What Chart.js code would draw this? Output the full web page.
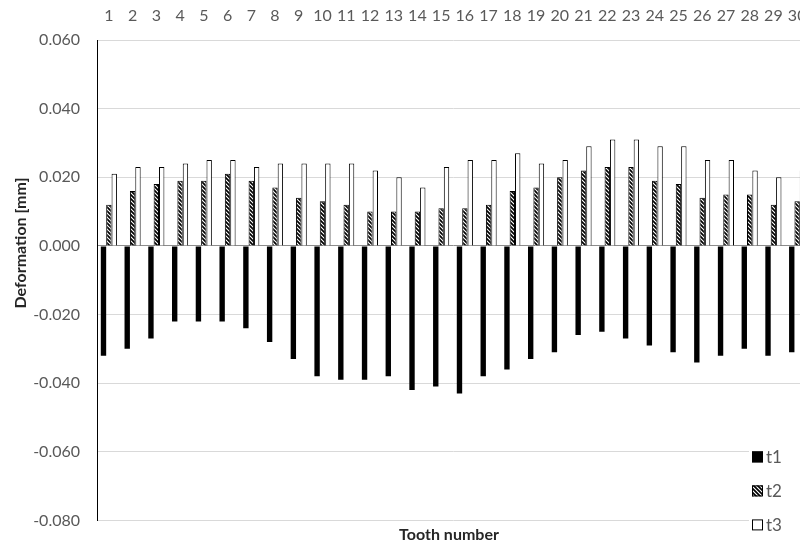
<!DOCTYPE html>
<html>
<head>
<meta charset="utf-8">
<script src="https://cdn.jsdelivr.net/npm/chart.js@4.4.0/dist/chart.umd.min.js"></script>
<style>
  html, body { margin: 0; padding: 0; background: #fff; overflow: hidden; }
  #wrap { width: 800px; height: 547px; overflow: hidden; }
</style>
</head>
<body>
<div id="wrap"><canvas id="chart" width="820" height="547"></canvas></div>
<script>
// tooth numbers (top axis)
const teeth = ["1", "2", "3", "4", "5", "6", "7", "8", "9", "10",
  "11", "12", "13", "14", "15", "16", "17", "18", "19", "20",
  "21", "22", "23", "24", "25", "26", "27", "28", "29", "30"];

// deformation [mm]
const t1 = [-0.032, -0.030, -0.027, -0.022, -0.022, -0.022, -0.024, -0.028, -0.033, -0.038,
  -0.039, -0.039, -0.038, -0.042, -0.041, -0.043, -0.038, -0.036, -0.033, -0.031,
  -0.026, -0.025, -0.027, -0.029, -0.031, -0.034, -0.032, -0.030, -0.032, -0.031];
const t2 = [0.012, 0.016, 0.018, 0.019, 0.019, 0.021, 0.019, 0.017, 0.014, 0.013,
  0.012, 0.010, 0.010, 0.010, 0.011, 0.011, 0.012, 0.016, 0.017, 0.020,
  0.022, 0.023, 0.023, 0.019, 0.018, 0.014, 0.015, 0.015, 0.012, 0.013];
const t3 = [0.021, 0.023, 0.023, 0.024, 0.025, 0.025, 0.023, 0.024, 0.024, 0.024,
  0.024, 0.022, 0.020, 0.017, 0.023, 0.025, 0.025, 0.027, 0.024, 0.025,
  0.029, 0.031, 0.031, 0.029, 0.029, 0.025, 0.025, 0.022, 0.020, 0.022];

const yTicks = [-0.08, -0.06, -0.04, -0.02, 0, 0.02, 0.04, 0.06];

Chart.defaults.font.family = "Lato, 'Liberation Sans', sans-serif";

const canvas = document.getElementById("chart");
const ctx = canvas.getContext("2d");

// diagonal hatch for t2
function makeHatch() {
  const c = document.createElement("canvas");
  c.width = 4;
  c.height = 4;
  const g = c.getContext("2d");
  g.fillStyle = "#fff";
  g.fillRect(0, 0, 4, 4);
  g.strokeStyle = "#000";
  g.lineWidth = 1.7;
  g.beginPath();
  g.moveTo(-1, -1); g.lineTo(5, 5);
  g.moveTo(3, -1); g.lineTo(5, 1);
  g.moveTo(-1, 3); g.lineTo(1, 5);
  g.stroke();
  return ctx.createPattern(c, "repeat");
}
const hatch = makeHatch();

// axis titles placed like the original + legend bottom right
const extras = {
  id: "extras",
  afterDraw(chart) {
    const c = chart.ctx;
    const a = chart.chartArea;
    c.save();
    c.fillStyle = "#262626";
    c.font = "bold 16px Lato";
    c.textAlign = "center";
    c.textBaseline = "middle";
    c.fillText("Tooth number", 449, 535);
    c.translate(21, 243);
    c.rotate(-Math.PI / 2);
    c.fillText("Deformation [mm]", 0, 0);
    c.restore();

    const x = a.right - 57;
    c.save();
    c.fillStyle = "#fff";
    c.fillRect(x - 3, a.bottom - 76, 80, 110);
    chart.data.datasets.forEach((ds, i) => {
      const y = a.bottom - 69 + i * 34;
      c.fillStyle = ds.backgroundColor;
      c.fillRect(x, y, 11, 11);
      c.strokeStyle = "#000";
      c.lineWidth = 1;
      c.strokeRect(x + 0.5, y + 0.5, 10, 10);
      c.fillStyle = "#595959";
      c.font = "17px Lato";
      c.textBaseline = "middle";
      c.textAlign = "left";
      c.fillText(ds.label, x + 14, y + 6);
    });
    c.restore();
  },
};

new Chart(ctx, {
  type: "bar",
  data: {
    labels: teeth,
    datasets: [
      { label: "t1", data: t1, backgroundColor: "#000", borderWidth: 0 },
      { label: "t2", data: t2, backgroundColor: hatch, borderColor: "#000", borderWidth: 1 },
      { label: "t3", data: t3, backgroundColor: "#fff", borderColor: "#000", borderWidth: 1 },
    ],
  },
  options: {
    responsive: false,
    animation: false,
    devicePixelRatio: 1,
    layout: { padding: { left: 0, right: 11, top: 0, bottom: 26 } },
    datasets: { bar: { categoryPercentage: 0.68, barPercentage: 1 } },
    plugins: { legend: { display: false }, tooltip: { enabled: false } },
    scales: {
      x: {
        position: "top",
        grid: { display: false },
        border: { display: false },
        ticks: { color: "#595959", font: { size: 16 }, padding: 7, maxRotation: 0, autoSkip: false },
        afterFit: (s) => { s.height = 40; },
      },
      y: {
        min: -0.08,
        max: 0.06,
        afterBuildTicks: (s) => { s.ticks = yTicks.map((v) => ({ value: v })); },
        grid: {
          drawTicks: false,
          color: (c) => (c.tick && c.tick.value === 0 ? "#8c8c8c" : "#d9d9d9"),
        },
        border: { display: true, color: "#000", width: 1 },
        ticks: {
          color: "#595959",
          font: { size: 16 },
          padding: 17,
          callback: (v) => Number(v).toFixed(3),
        },
        afterFit: (s) => { s.width = 97; },
      },
    },
  },
  plugins: [extras],
});
</script>
</body>
</html>
